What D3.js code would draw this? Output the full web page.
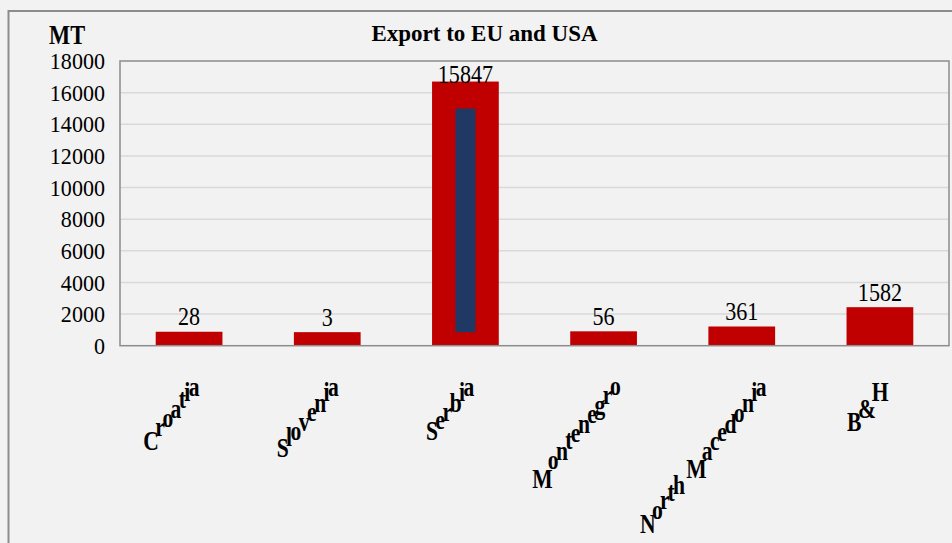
<!DOCTYPE html>
<html>
<head>
<meta charset="utf-8">
<script src="https://cdn.jsdelivr.net/npm/d3@7"></script>
<style>
  body { margin: 0; background: #f2f2f2; }
  svg { display: block; font-family: "Liberation Serif", "Times New Roman", serif; }
</style>
</head>
<body>
<div id="chart"></div>
<script>
// chart data
const categories = ["Croatia", "Slovenia", "Serbia", "Montenegro", "North Macedonia", "B&H"];
const values = [28, 3, 15847, 56, 361, 1582];
const yTicks = [0, 2000, 4000, 6000, 8000, 10000, 12000, 14000, 16000, 18000];
const chartTitle = "Export to EU and USA";
const unitLabel = "MT";

const width = 952;
const height = 543;
const plot = {left: 120, right: 949, top: 61, bottom: 345.7};
const serif = "'Liberation Serif', 'Times New Roman', serif";

const svg = d3.select("#chart")
  .append("svg")
  .attr("width", width)
  .attr("height", height);

svg.append("rect")
  .attr("width", width).attr("height", height)
  .attr("fill", "#f2f2f2");

// outer frame (only left and top show)
svg.append("path")
  .attr("d", `M8.5,${height} V11 H${width}`)
  .attr("fill", "none")
  .attr("stroke", "#8c8c8c")
  .attr("stroke-width", 2);

// scales
const x = d3.scaleBand()
  .domain(categories)
  .range([plot.left, plot.right])
  .paddingInner(0.517)
  .paddingOuter(0.2585);

const y = d3.scaleLinear()
  .domain([0, 18000])
  .range([plot.bottom, plot.top]);

// gridlines
svg.append("g")
  .selectAll("line")
  .data(yTicks.slice(1, -1))
  .join("line")
    .attr("x1", plot.left).attr("x2", plot.right)
    .attr("y1", d => y(d)).attr("y2", d => y(d))
    .attr("stroke", "#d9d9d9")
    .attr("stroke-width", 1.5);

// y axis labels
const yAxis = svg.append("g")
  .attr("transform", `translate(${plot.left},0)`)
  .call(d3.axisLeft(y).tickValues(yTicks).tickFormat(d3.format("d")).tickSize(0).tickPadding(0))
  .attr("font-family", serif);
yAxis.select(".domain").remove();
yAxis.selectAll("text")
  .attr("x", null)
  .attr("transform", "translate(-15,0) scale(0.92,1)")
  .attr("font-size", 24)
  .attr("font-family", serif)
  .attr("fill", "#000");

// bars: thick red outline with navy core
const edge = 13.5;
const bars = svg.append("g");
bars.selectAll(".bar")
  .data(values)
  .join("rect")
    .attr("class", "bar")
    .attr("x", (d, i) => x(categories[i]))
    .attr("width", x.bandwidth())
    .attr("y", d => y(d) - edge)
    .attr("height", d => y(0) - y(d) + edge)
    .attr("fill", "#c00000");

bars.selectAll(".core")
  .data(values.map((v, i) => ({v, i})).filter(d => y(0) - y(d.v) > 2 * edge))
  .join("rect")
    .attr("class", "core")
    .attr("x", d => x(categories[d.i]) + x.bandwidth() / 2 - 10)
    .attr("width", 20)
    .attr("y", d => y(d.v) + edge)
    .attr("height", d => y(0) - y(d.v) - 2 * edge)
    .attr("fill", "#203864");

// plot frame
svg.append("rect")
  .attr("x", plot.left).attr("y", plot.top)
  .attr("width", plot.right - plot.left)
  .attr("height", plot.bottom - plot.top)
  .attr("fill", "none")
  .attr("stroke", "#8c8c8c")
  .attr("stroke-width", 1.5);

// value labels
svg.append("g")
  .selectAll("text")
  .data(values)
  .join("text")
    .attr("transform", (d, i) => {
      const cx = x(categories[i]) + x.bandwidth() / 2;
      const by = Math.max(y(d) - 20, plot.top + 22);
      return `translate(${cx},${by}) scale(0.85,1)`;
    })
    .attr("text-anchor", "middle")
    .attr("font-size", 26)
    .text(d => d);

// title and unit
svg.append("text")
  .attr("x", 484.5).attr("y", 41)
  .attr("text-anchor", "middle")
  .attr("font-size", 23)
  .attr("font-weight", "bold")
  .text(chartTitle);

svg.append("text")
  .attr("transform", "translate(49,44) scale(0.8,1)")
  .attr("font-size", 28)
  .attr("font-weight", "bold")
  .text(unitLabel);

// category labels: upright glyphs stepping up along a diagonal
const catFont = 27;
const ctx = document.createElement("canvas").getContext("2d");
ctx.font = `bold ${catFont}px ${serif}`;
const kx = 0.61, ky = 0.725;

const catG = svg.append("g");
categories.forEach(name => {
  const cx = x(name) + x.bandwidth() / 2;
  const L = ctx.measureText(name).width;
  const x0 = cx - 3 - 0.486 * L;
  const y0 = 386 + ky * L;
  const chars = name.split("").map((c, i) => ({c, s: ctx.measureText(name.slice(0, i)).width}));
  catG.selectAll(null)
    .data(chars.filter(d => d.c !== " "))
    .join("text")
      .attr("transform", d => `translate(${x0 + kx * d.s},${y0 - ky * d.s}) scale(0.8,1)`)
      .attr("font-size", catFont)
      .attr("font-weight", "bold")
      .text(d => d.c);
});
</script>
</body>
</html>
